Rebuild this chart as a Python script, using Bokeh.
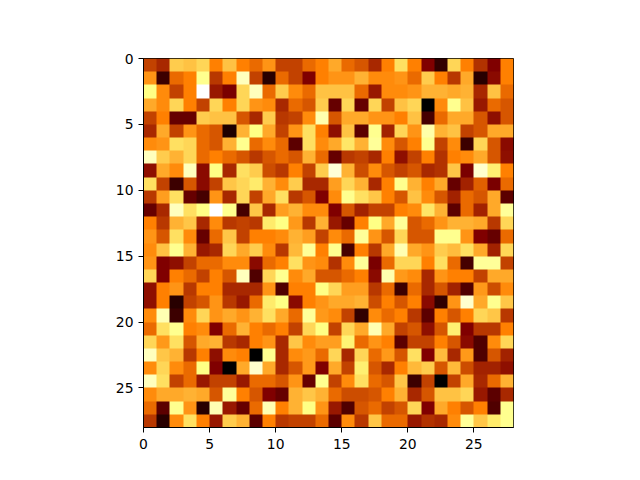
import numpy as np
from bokeh.plotting import figure
from bokeh.models import LinearColorMapper, Range1d, FixedTicker
from bokeh.embed import file_html
from bokeh.resources import INLINE

r00 = [.38,.33,.65,.63,.67,.5,.63,.5,.46,.54,.38,.38,.46,.5,.58,.46,.42,.33,.5,.69,.5,.25,.1,.67,.5,.35,.25,.5]
r01 = [.54,.12,.46,.5,.78,.36,.5,.87,.38,.08,.46,.38,.25,.5,.54,.54,.6,.52,.52,.54,.46,.65,.5,.36,.58,.08,.27,.5]
r02 = [.76,.52,.38,.5,1.0,.3,.24,.67,.87,.46,.65,.52,.46,.63,.63,.63,.46,.3,.52,.52,.54,.6,.6,.58,.6,.33,.63,.46]
r03 = [.58,.52,.67,.5,.38,.67,.5,.67,.54,.52,.33,.46,.42,.65,.2,.67,.2,.67,.38,.63,.67,0,.52,.78,.63,.3,.46,.42]
r04 = [.38,.5,.2,.2,.65,.63,.63,.42,.33,.65,.36,.38,.52,.84,.42,.58,.58,.54,.54,.5,.63,.14,.46,.58,.58,.42,.28,.42]
r05 = [.33,.58,.38,.54,.46,.42,.06,.6,.76,.58,.38,.54,.69,.5,.28,.63,.18,.78,.32,.67,.54,.83,.6,.63,.38,.42,.58,.58]
r06 = [.52,.54,.69,.67,.46,.42,.6,.78,.46,.52,.46,.18,.69,.52,.58,.7,.6,.8,.52,.42,.5,.78,.38,.52,.12,.67,.42,.27]
r07 = [.87,.65,.6,.67,.46,.5,.46,.42,.36,.42,.46,.42,.6,.46,.2,.36,.38,.33,.5,.28,.38,.5,.35,.5,.52,.58,.42,.28]
r08 = [.28,.58,.52,.87,.27,.76,.33,.69,.65,.4,.36,.5,.38,.65,.92,.6,.4,.52,.42,.38,.42,.33,.35,.64,.24,.9,.72,.5]
r09 = [.69,.38,.12,.42,.27,.38,.64,.67,.71,.6,.52,.65,.33,.33,.56,.67,.6,.33,.5,.78,.6,.5,.58,.2,.32,.44,.24,.46]
r10 = [.36,.56,.69,.2,.14,.54,.33,.67,.38,.58,.69,.36,.42,.25,.52,.78,.69,.64,.5,.42,.63,.52,.42,.32,.46,.42,.58,.18]
r11 = [.2,.33,.87,.69,.76,1.0,.78,.14,.64,.33,.56,.6,.52,.52,.25,.42,.32,.38,.38,.5,.52,.7,.6,.18,.46,.32,.58,.8]
r12 = [.5,.36,.6,.64,.33,.52,.36,.38,.36,.71,.76,.55,.36,.6,.3,.2,.5,.76,.58,.8,.42,.46,.54,.6,.6,.58,.36,.67]
r13 = [.54,.42,.69,.52,.2,.46,.64,.38,.5,.5,.52,.6,.56,.38,.52,.46,.8,.54,.42,.67,.42,.42,.78,.78,.54,.25,.2,.46]
r14 = [.52,.63,.78,.6,.3,.33,.67,.58,.65,.52,.36,.61,.8,.5,.78,.14,.5,.36,.58,.85,.58,.54,.65,.62,.69,.58,.32,.67]
r15 = [.54,.25,.28,.38,.46,.46,.52,.52,.27,.46,.5,.69,.54,.52,.35,.52,.8,.24,.46,.67,.67,.5,.69,.46,.14,.8,.8,.38]
r16 = [.67,.25,.5,.46,.38,.5,.42,.87,.16,.67,.78,.52,.58,.42,.42,.46,.5,.27,.84,.55,.52,.33,.54,.5,.5,.38,.58,.58]
r17 = [.28,.5,.54,.36,.5,.5,.33,.33,.33,.54,.16,.5,.5,.76,.67,.56,.56,.36,.46,.12,.46,.33,.42,.32,.16,.55,.4,.52]
r18 = [.28,.5,.08,.38,.42,.54,.36,.3,.46,.71,.76,.27,.5,.54,.58,.58,.6,.4,.5,.42,.5,.27,.1,.54,.9,.58,.78,.64]
r19 = [.52,.85,.12,.52,.67,.54,.58,.54,.6,.69,.58,.46,.8,.55,.52,.38,.1,.52,.46,.5,.36,.18,.5,.42,.5,.67,.64,.36]
r20 = [.46,.69,.78,.5,.52,.25,.46,.6,.5,.46,.5,.38,.67,.76,.38,.67,.58,.85,.58,.38,.42,.28,.42,.72,.25,.36,.36,.5]
r21 = [.67,.55,.69,.42,.58,.6,.36,.33,.5,.54,.33,.64,.52,.56,.56,.73,.46,.54,.5,.18,.38,.38,.5,.42,.27,.16,.52,.67]
r22 = [.87,.64,.6,.36,.5,.28,.52,.5,0,.78,.33,.52,.55,.46,.67,.33,.67,.46,.55,.42,.69,.25,.62,.33,.55,.16,.42,.32]
r23 = [.52,.67,.52,.46,.76,.25,0,.58,.9,.58,.33,.42,.55,.25,.58,.38,.72,.42,.33,.5,.61,.65,.42,.61,.4,.32,.32,.28]
r24 = [.87,.69,.38,.46,.3,.38,.38,.3,.46,.46,.42,.54,.2,.78,.38,.52,.69,.46,.42,.64,.12,.38,0,.38,.58,.33,.46,.6]
r25 = [.52,.58,.58,.6,.58,.42,.8,.5,.42,.25,.2,.6,.64,.6,.46,.4,.4,.42,.5,.6,.33,.42,.63,.63,.67,.3,.18,.33]
r26 = [.46,.18,.78,.54,.08,.85,.3,.2,.46,.85,.5,.6,.76,.54,.3,.16,.42,.46,.38,.42,.67,.25,.58,.5,.42,.5,.16,.78]
r27 = [.36,.08,.52,.69,.5,.3,.65,.6,.18,.5,.36,.38,.38,.46,.18,.52,.36,.64,.46,.46,.3,.35,.33,.52,.8,.64,.71,.78]
rows = [r00,r01,r02,r03,r04,r05,r06,r07,r08,r09,r10,r11,r12,r13,r14,r15,r16,r17,r18,r19,r20,r21,r22,r23,r24,r25,r26,r27]
ticks = [0, 5, 10, 15, 20, 25]

def afmhot(v):
    c = lambda t: int(round(255 * min(1.0, max(0.0, t))))
    return "#%02x%02x%02x" % (c(2 * v), c(2 * v - 0.5), c(2 * v - 1))

palette = [afmhot(i / 255) for i in range(256)]
mapper = LinearColorMapper(palette=palette, low=0, high=1)

n = len(rows)
p = figure(width=632, height=471, output_backend="svg", toolbar_location=None,
           x_range=Range1d(0, n), y_range=Range1d(n, 0),
           min_border_left=143, min_border_right=119, min_border_top=58, min_border_bottom=44,
           frame_width=370, frame_height=369, background_fill_color="white")
p.image(image=[np.array(rows, dtype=float)], x=0, y=0, dw=n, dh=n, color_mapper=mapper)

p.grid.visible = False
p.outline_line_color = "black"
p.outline_line_width = 1
for ax in (p.xaxis[0], p.yaxis[0]):
    ax.ticker = FixedTicker(ticks=ticks)
    ax.minor_tick_line_color = None
    ax.major_tick_in = 0
    ax.major_tick_out = 5
    ax.major_tick_line_width = 1
    ax.major_tick_line_color = "black"
    ax.axis_line_color = "black"
    ax.axis_line_width = 1
    ax.major_label_text_font = "DejaVu Sans"
    ax.major_label_text_font_size = "13.9px"
    ax.major_label_text_color = "black"
    ax.major_label_standoff = 5
p.xaxis[0].major_label_standoff = 6

open("out.html", "w").write(file_html(p, INLINE))
